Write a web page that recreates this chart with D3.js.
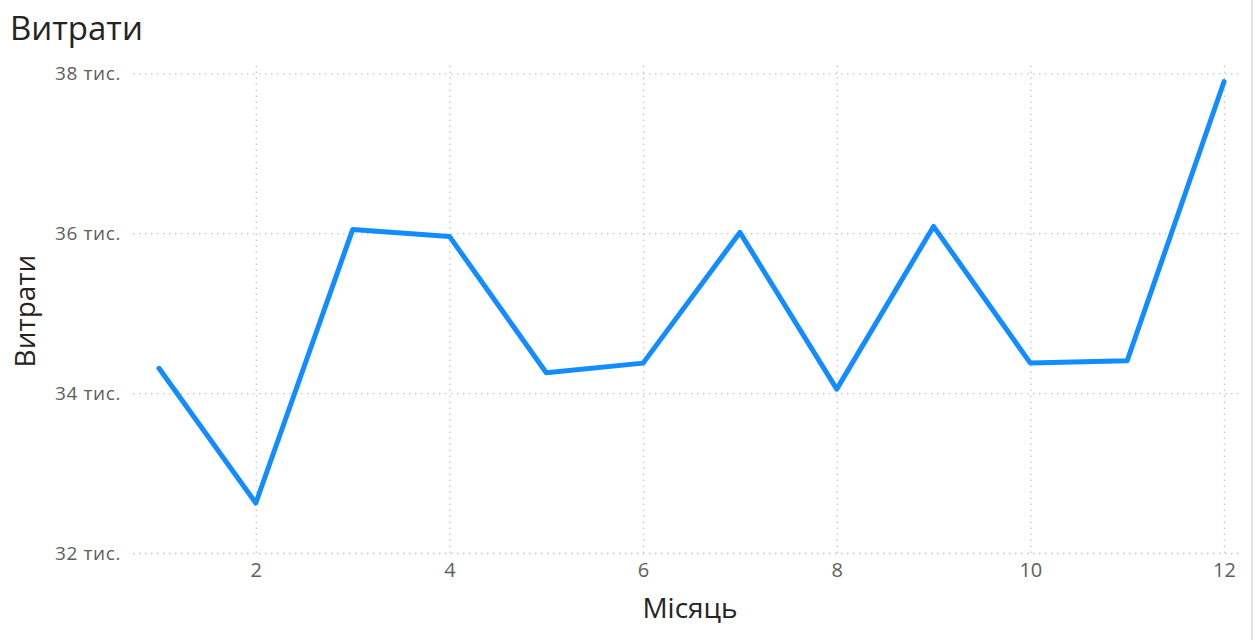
<!DOCTYPE html>
<html>
<head>
<meta charset="utf-8">
<script src="https://cdn.jsdelivr.net/npm/d3@7"></script>
<style>
  html, body { margin: 0; padding: 0; background: #fff; }
  svg { display: block; font-family: "Segoe UI", "Open Sans", sans-serif; }
</style>
</head>
<body>
<svg id="chart" width="1256" height="640"></svg>
<script>
// Monthly expenses
const months = [1, 2, 3, 4, 5, 6, 7, 8, 9, 10, 11, 12];
const expenses = [34310, 32625, 36045, 35960, 34255, 34375, 36010, 34050, 36085, 34375, 34405, 37895];
const yTicks = [32000, 34000, 36000, 38000];
const xTicks = [2, 4, 6, 8, 10, 12];

const chartTitle = "Витрати";
const yTitle = "Витрати";
const xTitle = "Місяць";

const svg = d3.select("#chart");
const W = 1256, H = 640;

const plot = { left: 133, right: 1242, top: 62, bottom: 553 };

const x = d3.scaleLinear()
  .domain([1, 12])
  .range([159, 1224]);

const y = d3.scaleLinear()
  .domain([32000, 38000])
  .range([553, 73.3]);

const gridColor = "#c8c6c4";
const textColor = "#605e5c";
const titleColor = "#252423";

// Horizontal gridlines with value labels
const yAxis = d3.axisLeft(y)
  .tickValues(yTicks)
  .tickSize(-(plot.right - plot.left))
  .tickPadding(12)
  .tickFormat(d => (d / 1000) + " тис.");

const gy = svg.append("g")
  .attr("transform", `translate(${plot.left},0)`)
  .call(yAxis);
gy.select(".domain").remove();
gy.selectAll(".tick line")
  .attr("stroke", gridColor)
  .attr("stroke-width", 1.3)
  .attr("stroke-dasharray", "1.5,4.5");
gy.selectAll(".tick text")
  .attr("fill", textColor)
  .attr("font-size", 19)
  .attr("letter-spacing", 0.6)
  .attr("font-family", "'Segoe UI', 'Open Sans', sans-serif");

// Vertical gridlines with month labels
const xAxis = d3.axisBottom(x)
  .tickValues(xTicks)
  .tickSize(-(plot.bottom - plot.top))
  .tickPadding(10)
  .tickFormat(d3.format("d"));

const gx = svg.append("g")
  .attr("transform", `translate(0,${plot.bottom})`)
  .call(xAxis);
gx.select(".domain").remove();
gx.selectAll(".tick line")
  .attr("stroke", gridColor)
  .attr("stroke-width", 1.3)
  .attr("stroke-dasharray", "1.5,4.5");
gx.selectAll(".tick text")
  .attr("fill", textColor)
  .attr("font-size", 20)
  .attr("font-family", "'Segoe UI', 'Open Sans', sans-serif");

// Expense line
const line = d3.line()
  .x((d, i) => x(months[i]))
  .y(d => y(d));

svg.append("path")
  .datum(expenses)
  .attr("fill", "none")
  .attr("stroke", "#118dff")
  .attr("stroke-width", 5)
  .attr("stroke-linejoin", "round")
  .attr("stroke-linecap", "round")
  .attr("d", line);

// Titles
svg.append("text")
  .attr("x", 10)
  .attr("y", 40)
  .attr("fill", titleColor)
  .attr("font-size", 33)
  .text(chartTitle);

svg.append("text")
  .attr("transform", `translate(35,311) rotate(-90)`)
  .attr("text-anchor", "middle")
  .attr("fill", titleColor)
  .attr("font-size", 28)
  .text(yTitle);

svg.append("text")
  .attr("x", 690)
  .attr("y", 618)
  .attr("text-anchor", "middle")
  .attr("fill", titleColor)
  .attr("font-size", 28)
  .text(xTitle);

// Frame edge on the right
svg.append("line")
  .attr("x1", 1252).attr("x2", 1252)
  .attr("y1", 0).attr("y2", H)
  .attr("stroke", "#d8d8d8")
  .attr("stroke-width", 1.5);
</script>
</body>
</html>
